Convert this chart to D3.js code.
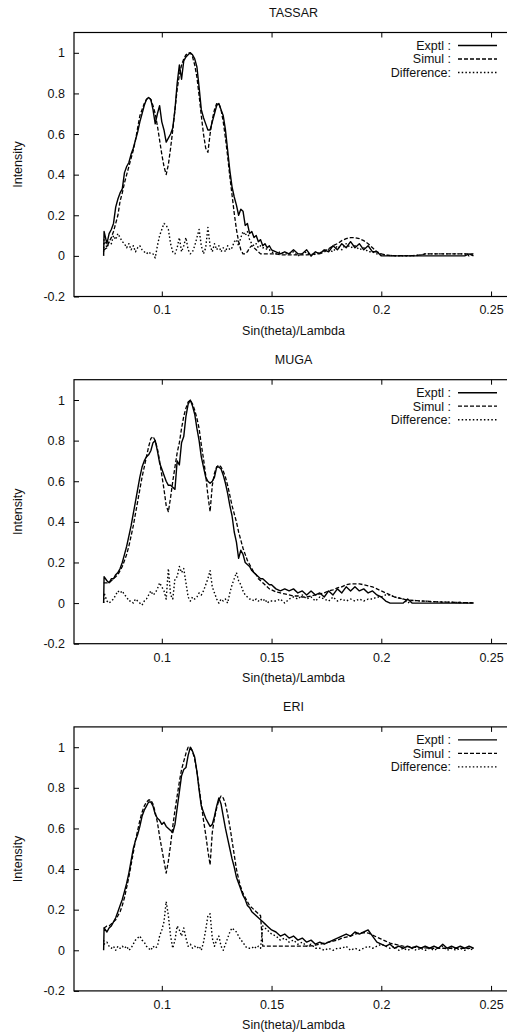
<!DOCTYPE html>
<html>
<head>
<meta charset="utf-8">
<script src="https://cdn.jsdelivr.net/npm/d3@7"></script>
<style>
  html, body { margin: 0; padding: 0; background: #fff; }
  svg { display: block; font-family: "Liberation Sans", Arial, Helvetica, sans-serif; }
</style>
</head>
<body>
<svg id="chart" width="507" height="1033"></svg>
<script>
// ---- sampling grid (Sin(theta)/Lambda) ----
const sinThetaLambda = [0.0735, 0.0737].concat(
  d3.range(75, 151).map(v => v / 1000),
  d3.range(152, 243, 2).map(v => v / 1000)
);

// ---- tick labels / categories ----
const panelTitles = ["TASSAR", "MUGA", "ERI"];
const seriesNames = ["Exptl :", "Simul :", "Difference:"];
const xTicks = [0.1, 0.15, 0.2, 0.25];
const yTicks = [-0.2, 0, 0.2, 0.4, 0.6, 0.8, 1];

// ---- TASSAR ----
const tassarExptl = [
  0, 0.12, 0.06, 0.11, 0.13, 0.16, 0.24, 0.28,
  0.31, 0.33, 0.41, 0.44, 0.46, 0.50, 0.53, 0.57, 0.61, 0.66,
  0.70, 0.74, 0.77, 0.78, 0.77, 0.72, 0.65, 0.70, 0.74, 0.66,
  0.62, 0.56, 0.58, 0.60, 0.63, 0.72, 0.85, 0.94, 0.87, 0.96,
  0.98, 0.99, 1.00, 0.99, 0.97, 0.93, 0.83, 0.72, 0.68, 0.65,
  0.62, 0.62, 0.66, 0.70, 0.74, 0.75, 0.72, 0.69, 0.62, 0.52,
  0.42, 0.34, 0.29, 0.25, 0.20, 0.23, 0.22, 0.15, 0.16, 0.11,
  0.12, 0.09, 0.10, 0.07, 0.08, 0.05, 0.06, 0.04, 0.05, 0.03,
  0.02, 0.01, 0.02, 0.01, 0.03, 0.01, 0.01, 0.03, 0.00, 0.02,
  0.01, 0.03, 0.02, 0.05, 0.03, 0.06, 0.04, 0.07, 0.04, 0.06,
  0.03, 0.05, 0.02, 0.02, 0.00, 0.00, 0.00, 0.00, 0.00, 0.00,
  0.00, 0.00, 0.00, 0.00, 0.00, 0.00, 0.00, 0.00, 0.00, 0.00,
  0.00, 0.00, 0.00, 0.00, 0.01, 0.00
];
const tassarSimul = [
  0.03, 0.03, 0.04, 0.07, 0.09, 0.12, 0.16, 0.20,
  0.27, 0.31, 0.36, 0.40, 0.44, 0.48, 0.52, 0.57, 0.63, 0.69,
  0.72, 0.75, 0.77, 0.78, 0.77, 0.74, 0.70, 0.64, 0.57, 0.50,
  0.44, 0.40, 0.45, 0.53, 0.62, 0.72, 0.82, 0.89, 0.94, 0.97,
  0.99, 1.00, 1.00, 0.98, 0.94, 0.88, 0.79, 0.69, 0.60, 0.53,
  0.51, 0.60, 0.67, 0.72, 0.75, 0.75, 0.72, 0.66, 0.58, 0.49,
  0.39, 0.30, 0.21, 0.13, 0.07, 0.03, 0.01, 0.01, 0.02, 0.04,
  0.05, 0.04, 0.03, 0.02, 0.01, 0.01, 0.01, 0.01, 0.01, 0.01,
  0.01, 0.005, 0.005, 0.005, 0.005, 0.005, 0.005, 0.005, 0.007, 0.01,
  0.015, 0.025, 0.035, 0.05, 0.06, 0.075, 0.085, 0.09, 0.09, 0.085,
  0.075, 0.06, 0.04, 0.02, 0.01, 0.004, 0.002, 0.001, 0.001, 0.001,
  0.001, 0.001, 0.002, 0.005, 0.01, 0.01, 0.01, 0.01, 0.01, 0.01,
  0.01, 0.01, 0.01, 0.01, 0.01, 0.01
];
const tassarDiff = [
  0.02, 0.08, 0.04, 0.07, 0.06, 0.10, 0.08, 0.11,
  0.09, 0.07, 0.06, 0.04, 0.06, 0.03, 0.05, 0.02, 0.04, 0.05,
  0.03, 0.02, 0.01, 0.02, 0.01, 0.01, -0.01, 0.05, 0.10, 0.13,
  0.16, 0.15, 0.13, 0.06, 0.02, 0.01, 0.04, 0.09, 0.02, 0.05,
  0.09, 0.03, 0.01, 0.02, 0.05, 0.09, 0.13, 0.05, 0.01, 0.04,
  0.14, 0.05, 0.02, 0.06, 0.03, 0.05, 0.02, 0.04, 0.02, 0.05,
  0.03, 0.04, 0.07, 0.08, 0.05, 0.09, 0.12, 0.10, 0.12, 0.08,
  0.06, 0.05, 0.06, 0.04, 0.05, 0.04, 0.04, 0.03, 0.03, 0.02,
  0.01, 0.02, 0.01, 0.01, 0.02, 0.00, 0.01, 0.02, 0.00, 0.01,
  0.01, 0.02, 0.03, 0.02, 0.05, 0.03, 0.06, 0.04, 0.05, 0.03,
  0.04, 0.02, 0.02, 0.01, 0.01, 0.003, 0.002, 0.001, 0.001, 0.001,
  0.001, 0.001, 0.002, 0.005, 0.01, 0.01, 0.01, 0.01, 0.01, 0.01,
  0.01, 0.01, 0.01, 0.01, 0.00, 0.01
];

// ---- MUGA ----
const mugaExptl = [
  0, 0.13, 0.11, 0.10, 0.12, 0.12, 0.14, 0.15,
  0.17, 0.20, 0.24, 0.28, 0.33, 0.38, 0.44, 0.50, 0.56, 0.62,
  0.67, 0.70, 0.72, 0.73, 0.75, 0.79, 0.80, 0.75, 0.69, 0.66,
  0.63, 0.60, 0.58, 0.58, 0.57, 0.56, 0.70, 0.68, 0.79, 0.82,
  0.92, 0.98, 1.00, 0.97, 0.93, 0.86, 0.80, 0.72, 0.67, 0.62,
  0.60, 0.59, 0.60, 0.62, 0.67, 0.67, 0.66, 0.63, 0.59, 0.54,
  0.48, 0.43, 0.35, 0.30, 0.22, 0.26, 0.24, 0.20, 0.19, 0.18,
  0.16, 0.15, 0.14, 0.13, 0.12, 0.12, 0.11, 0.10, 0.09, 0.09,
  0.07, 0.06, 0.07, 0.06, 0.07, 0.05, 0.06, 0.04, 0.06, 0.04,
  0.05, 0.03, 0.06, 0.04, 0.07, 0.05, 0.08, 0.06, 0.08, 0.06,
  0.07, 0.05, 0.06, 0.04, 0.03, 0.01, 0.00, 0.00, 0.00, 0.00,
  0.02, 0.00, 0.00, 0.00, 0.00, 0.00, 0.00, 0.00, 0.00, 0.00,
  0.00, 0.00, 0.00, 0.00, 0.00, 0.00
];
const mugaSimul = [
  0.10, 0.10, 0.10, 0.10, 0.11, 0.12, 0.13, 0.14,
  0.16, 0.18, 0.21, 0.24, 0.28, 0.33, 0.38, 0.44, 0.50, 0.56,
  0.62, 0.67, 0.72, 0.77, 0.81, 0.82, 0.80, 0.76, 0.70, 0.63,
  0.56, 0.48, 0.45, 0.52, 0.60, 0.67, 0.74, 0.79, 0.86, 0.92,
  0.96, 0.99, 1.00, 0.98, 0.95, 0.91, 0.86, 0.78, 0.71, 0.63,
  0.53, 0.45, 0.58, 0.64, 0.67, 0.68, 0.67, 0.65, 0.62, 0.58,
  0.53, 0.48, 0.44, 0.40, 0.35, 0.31, 0.27, 0.24, 0.21, 0.19,
  0.17, 0.15, 0.14, 0.12, 0.11, 0.10, 0.09, 0.08, 0.07, 0.065,
  0.055, 0.05, 0.045, 0.04, 0.035, 0.035, 0.03, 0.03, 0.035, 0.04,
  0.045, 0.05, 0.06, 0.065, 0.075, 0.08, 0.09, 0.095, 0.095, 0.095,
  0.09, 0.085, 0.08, 0.07, 0.06, 0.05, 0.04, 0.03, 0.025, 0.02,
  0.015, 0.013, 0.012, 0.01, 0.01, 0.008, 0.007, 0.006, 0.005, 0.005,
  0.004, 0.003, 0.003, 0.002, 0.002, 0.001
];
const mugaDiff = [
  0.00, 0.05, 0.01, 0.00, 0.01, 0.02, 0.04, 0.06,
  0.05, 0.06, 0.04, 0.03, 0.01, 0.01, 0.00, 0.02, 0.01, 0.00,
  -0.01, 0.01, 0.02, 0.04, 0.06, 0.04, 0.05, 0.07, 0.10, 0.08,
  0.06, 0.02, 0.17, 0.04, 0.02, 0.12, 0.13, 0.18, 0.15, 0.17,
  0.10, 0.03, 0.01, 0.03, 0.02, 0.03, 0.05, 0.04, 0.06, 0.09,
  0.12, 0.16, 0.08, 0.05, 0.02, 0.00, 0.02, 0.01, 0.02, 0.00,
  0.05, 0.09, 0.12, 0.15, 0.11, 0.09, 0.06, 0.04, 0.03, 0.02,
  0.02, 0.01, 0.02, 0.01, 0.02, 0.01, 0.02, 0.00, 0.01, 0.01,
  0.01, 0.02, 0.00, 0.02, 0.03, 0.02, 0.04, 0.02, 0.03, 0.01,
  0.03, 0.02, 0.01, 0.03, 0.01, 0.02, 0.01, 0.02, 0.01, 0.02,
  0.01, 0.02, 0.02, 0.03, 0.03, 0.04, 0.04, 0.03, 0.025, 0.02,
  0.00, 0.013, 0.012, 0.01, 0.01, 0.008, 0.007, 0.006, 0.005, 0.005,
  0.004, 0.003, 0.003, 0.002, 0.002, 0.001
];

// ---- ERI ----
const eriExptl = [
  0, 0.11, 0.09, 0.11, 0.12, 0.14, 0.16, 0.19,
  0.22, 0.25, 0.29, 0.33, 0.38, 0.44, 0.50, 0.54, 0.57, 0.61,
  0.66, 0.69, 0.71, 0.73, 0.73, 0.71, 0.67, 0.65, 0.64, 0.62,
  0.63, 0.61, 0.60, 0.59, 0.58, 0.62, 0.70, 0.78, 0.86, 0.89,
  0.90, 0.96, 1.00, 0.98, 0.95, 0.88, 0.79, 0.71, 0.68, 0.65,
  0.63, 0.61, 0.62, 0.66, 0.71, 0.75, 0.72, 0.66, 0.60, 0.55,
  0.50, 0.45, 0.41, 0.36, 0.33, 0.30, 0.27, 0.25, 0.22, 0.21,
  0.19, 0.18, 0.17, 0.16, 0.15, 0.14, 0.13, 0.12, 0.11, 0.10,
  0.09, 0.07, 0.08, 0.06, 0.07, 0.05, 0.06, 0.04, 0.05, 0.03,
  0.04, 0.03, 0.04, 0.05, 0.06, 0.07, 0.08, 0.07, 0.09, 0.08,
  0.09, 0.10, 0.07, 0.04, 0.03, 0.02, 0.03, 0.01, 0.02, 0.01,
  0.02, 0.01, 0.02, 0.01, 0.02, 0.01, 0.02, 0.01, 0.03, 0.01,
  0.02, 0.01, 0.02, 0.01, 0.02, 0.01
];
const eriSimul = [
  0.11, 0.11, 0.12, 0.12, 0.13, 0.14, 0.15, 0.17,
  0.19, 0.22, 0.26, 0.31, 0.36, 0.42, 0.48, 0.54, 0.59, 0.64,
  0.68, 0.71, 0.73, 0.74, 0.74, 0.72, 0.68, 0.63, 0.56, 0.50,
  0.44, 0.38, 0.44, 0.52, 0.61, 0.69, 0.76, 0.83, 0.89, 0.93,
  0.97, 1.00, 1.00, 0.98, 0.94, 0.88, 0.80, 0.72, 0.64, 0.57,
  0.49, 0.42, 0.58, 0.65, 0.70, 0.74, 0.76, 0.75, 0.72, 0.67,
  0.61, 0.54, 0.47, 0.40, 0.35, 0.31, 0.28, 0.26, 0.24, 0.22,
  0.21, 0.20, 0.19, 0.18, 0.17, 0.02, 0.02, 0.02, 0.02, 0.02,
  0.02, 0.02, 0.02, 0.02, 0.02, 0.02, 0.02, 0.02, 0.022, 0.025,
  0.03, 0.035, 0.04, 0.045, 0.05, 0.06, 0.065, 0.07, 0.08, 0.085,
  0.087, 0.085, 0.075, 0.065, 0.055, 0.045, 0.035, 0.03, 0.025, 0.02,
  0.018, 0.016, 0.014, 0.013, 0.012, 0.011, 0.01, 0.01, 0.01, 0.01,
  0.01, 0.01, 0.01, 0.01, 0.01, 0.01
];
const eriDiff = [
  0.05, 0.03, 0.04, 0.02, 0.01, 0.02, 0.00, 0.02,
  0.01, 0.02, 0.01, 0.02, 0.00, 0.01, 0.03, 0.05, 0.06, 0.07,
  0.05, 0.04, 0.02, 0.01, 0.00, 0.02, 0.01, 0.02, 0.07, 0.10,
  0.14, 0.24, 0.17, 0.07, 0.01, 0.05, 0.12, 0.10, 0.07, 0.11,
  0.06, 0.02, 0.03, 0.01, 0.02, 0.01, 0.02, 0.00, 0.04, 0.10,
  0.17, 0.18, 0.06, 0.02, 0.05, 0.07, 0.02, 0.00, 0.03, 0.06,
  0.09, 0.11, 0.10, 0.09, 0.07, 0.05, 0.04, 0.02, 0.01, 0.01,
  0.01, 0.02, 0.01, 0.02, 0.01, 0.12, 0.11, 0.10, 0.09, 0.08,
  0.07, 0.05, 0.06, 0.04, 0.05, 0.03, 0.04, 0.02, 0.03, 0.01,
  0.01, 0.00, 0.01, 0.00, 0.01, 0.01, 0.02, 0.00, 0.01, 0.00,
  0.01, 0.02, 0.01, 0.02, 0.03, 0.02, 0.01, 0.02, 0.00, 0.01,
  0.00, 0.01, 0.00, 0.01, 0.00, 0.01, 0.00, 0.01, 0.02, 0.00,
  0.01, 0.00, 0.01, 0.00, 0.01, 0.00
];

const panelSeries = [
  [tassarExptl, tassarSimul, tassarDiff],
  [mugaExptl, mugaSimul, mugaDiff],
  [eriExptl, eriSimul, eriDiff]
];

// ---- layout ----
const svg = d3.select("#chart");
const frameLeft = 74, frameRight = 513, frameH = 264, firstTop = 32.5, panelStep = 347.2;
const dashes = [null, "4,2", "1.5,2.2"];
const widths = [1.4, 1.3, 1.4];
const fmt = d => String(+d.toFixed(2));
const FS = "12.5px";

panelTitles.forEach((title, p) => {
  const top = firstTop + p * panelStep;
  const bottom = top + frameH;
  const x = d3.scaleLinear().domain([0.06, 0.26]).range([frameLeft, frameRight]);
  const y = d3.scaleLinear().domain([-0.2, 1.1]).range([bottom, top]);
  const g = svg.append("g");

  // axes (inward ticks, mirrored)
  const axB = g.append("g").attr("transform", `translate(0,${bottom})`)
    .call(d3.axisBottom(x).tickValues(xTicks).tickSize(-5).tickPadding(9).tickFormat(fmt));
  const axT = g.append("g").attr("transform", `translate(0,${top})`)
    .call(d3.axisTop(x).tickValues(xTicks).tickSize(-5).tickFormat(""));
  const axL = g.append("g").attr("transform", `translate(${frameLeft},0)`)
    .call(d3.axisLeft(y).tickValues(yTicks).tickSize(-5).tickPadding(9).tickFormat(fmt));
  const axR = g.append("g").attr("transform", `translate(${frameRight},0)`)
    .call(d3.axisRight(y).tickValues(yTicks).tickSize(-5).tickFormat(""));
  [axB, axT, axL, axR].forEach(a => {
    a.select(".domain").remove();
    a.selectAll("line").attr("stroke", "#000");
    a.selectAll("text").attr("fill", "#111").style("font-size", FS)
      .style("font-family", '"Liberation Sans", Arial, sans-serif');
  });

  // frame
  g.append("rect").attr("x", frameLeft).attr("y", top)
    .attr("width", frameRight - frameLeft).attr("height", frameH)
    .attr("fill", "none").attr("stroke", "#000").attr("stroke-width", 1.2);

  // curves
  const series = panelSeries[p];
  [2, 1, 0].forEach(s => {
    const vals = series[s];
    const pts = sinThetaLambda.map((xv, i) => [xv, vals[i]]).filter(d => d[1] !== undefined);
    g.append("path").datum(pts)
      .attr("fill", "none").attr("stroke", "#000")
      .attr("stroke-width", widths[s])
      .attr("stroke-dasharray", dashes[s])
      .attr("stroke-linejoin", "round")
      .attr("d", d3.line().x(d => x(d[0])).y(d => y(d[1])));
  });

  // title
  g.append("text").attr("x", (frameLeft + frameRight) / 2).attr("y", top - 16)
    .attr("text-anchor", "middle").style("font-size", FS).attr("fill", "#111").text(title);
  // x label
  g.append("text").attr("x", (frameLeft + frameRight) / 2).attr("y", bottom + 38.5)
    .attr("text-anchor", "middle").style("font-size", FS).attr("fill", "#111").text("Sin(theta)/Lambda");
  // y label
  g.append("text").attr("transform", `translate(22,${(top + bottom) / 2}) rotate(-90)`)
    .attr("text-anchor", "middle").style("font-size", FS).attr("fill", "#111").text("Intensity");

  // legend
  seriesNames.forEach((name, s) => {
    const cy = top + 13 + s * 13.5;
    g.append("text").attr("x", 451).attr("y", cy + 4.4).attr("text-anchor", "end")
      .style("font-size", FS).attr("fill", "#111").text(name);
    g.append("line").attr("x1", 458).attr("x2", 497).attr("y1", cy).attr("y2", cy)
      .attr("stroke", "#000").attr("stroke-width", widths[s])
      .attr("stroke-dasharray", dashes[s]);
  });
});
</script>
</body>
</html>
